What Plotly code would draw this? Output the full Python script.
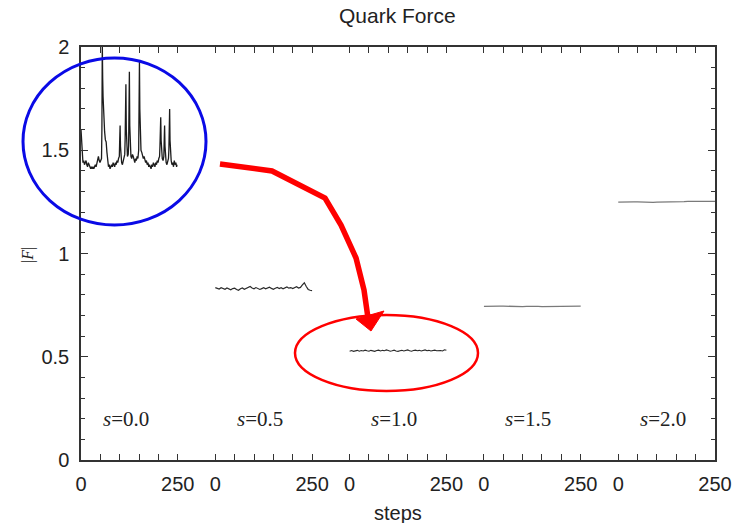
import plotly.graph_objects as go

# ---------------- data ----------------
panel_labels = ["0.0", "0.5", "1.0", "1.5", "2.0"]
panel_offset = 347          # x-offset (in steps) between consecutive panels
tick_steps = [0, 50, 100, 150, 200, 250]

steps_s00 = [0, 1, 2, 3, 5, 7, 9, 11, 13, 15,
             17, 19, 21, 23, 25, 27, 29, 31, 33, 35,
             37, 39, 41, 43, 45, 47, 49, 51, 53, 54,
             55, 56, 57, 58, 59, 61, 63, 65, 67, 69,
             71, 73, 75, 77, 79, 81, 83, 85, 87, 89,
             91, 93, 95, 97, 99, 100, 101, 102, 103, 105,
             107, 109, 111, 113, 114, 115, 116, 117, 118, 120,
             122, 123, 124, 125, 126, 127, 129, 131, 133, 135,
             137, 139, 141, 143, 145, 147, 149, 150, 151, 152,
             153, 155, 157, 159, 161, 163, 165, 167, 169, 171,
             173, 175, 177, 179, 181, 183, 185, 187, 189, 191,
             193, 195, 197, 199, 201, 203, 204, 205, 206, 207,
             208, 210, 212, 214, 215, 216, 217, 218, 220, 222,
             224, 226, 227, 228, 229, 230, 231, 233, 235, 237,
             239, 241, 243, 245, 247, 248]
force_s00 = [1.60, 1.55, 1.50, 1.46, 1.44, 1.45, 1.43, 1.44, 1.45, 1.43,
             1.42, 1.44, 1.43, 1.42, 1.41, 1.42, 1.41, 1.42, 1.41, 1.42,
             1.43, 1.42, 1.44, 1.46, 1.47, 1.45, 1.44, 1.45, 1.46, 1.60,
             2.02, 1.85, 1.76, 1.70, 1.63, 1.59, 1.55, 1.54, 1.49, 1.44,
             1.42, 1.43, 1.41, 1.42, 1.43, 1.42, 1.44, 1.43, 1.42, 1.44,
             1.43, 1.45, 1.44, 1.46, 1.47, 1.55, 1.62, 1.52, 1.46, 1.44,
             1.43, 1.45, 1.46, 1.48, 1.55, 1.70, 1.82, 1.60, 1.49, 1.47,
             1.48, 1.52, 1.70, 1.88, 1.62, 1.50, 1.47, 1.46, 1.48, 1.47,
             1.45, 1.44, 1.46, 1.45, 1.47, 1.46, 1.50, 1.65, 1.93, 1.70,
             1.54, 1.50, 1.49, 1.48, 1.46, 1.47, 1.45, 1.44, 1.45, 1.43,
             1.44, 1.42, 1.43, 1.42, 1.41, 1.43, 1.42, 1.44, 1.43, 1.42,
             1.44, 1.43, 1.45, 1.44, 1.46, 1.47, 1.52, 1.60, 1.66, 1.55,
             1.48, 1.46, 1.45, 1.47, 1.55, 1.62, 1.52, 1.46, 1.44, 1.43,
             1.45, 1.46, 1.50, 1.62, 1.70, 1.55, 1.47, 1.45, 1.43, 1.44,
             1.42, 1.45, 1.43, 1.44, 1.42, 1.43]

steps_fine = list(range(0, 251, 5))
force_s05 = [0.835, 0.832, 0.828, 0.834, 0.830, 0.827, 0.833, 0.829, 0.824, 0.830,
             0.832, 0.826, 0.822, 0.829, 0.833, 0.827, 0.831, 0.836, 0.840, 0.833,
             0.829, 0.835, 0.831, 0.826, 0.830, 0.834, 0.829, 0.833, 0.837, 0.831,
             0.827, 0.832, 0.836, 0.830, 0.834, 0.829, 0.833, 0.838, 0.832, 0.835,
             0.830, 0.834, 0.839, 0.833, 0.836, 0.848, 0.858, 0.840, 0.826, 0.822,
             0.820]
force_s10 = [0.527, 0.530, 0.526, 0.529, 0.531, 0.527, 0.530, 0.528, 0.532, 0.529,
             0.527, 0.531, 0.529, 0.526, 0.530, 0.532, 0.528, 0.531, 0.529, 0.533,
             0.530, 0.527, 0.529, 0.532, 0.528, 0.526, 0.529, 0.531, 0.528, 0.530,
             0.533, 0.529, 0.527, 0.530, 0.532, 0.529, 0.531, 0.528, 0.530, 0.533,
             0.529, 0.531, 0.528, 0.530, 0.532, 0.529, 0.531, 0.530, 0.528, 0.534,
             0.531]

steps_coarse = list(range(0, 251, 10))
force_s15 = [0.744, 0.745, 0.746, 0.746, 0.745, 0.745, 0.744, 0.743, 0.743, 0.742,
             0.743, 0.744, 0.745, 0.745, 0.744, 0.743, 0.743, 0.744, 0.745, 0.746,
             0.745, 0.744, 0.745, 0.746, 0.745, 0.745]
force_s20 = [1.249, 1.250, 1.250, 1.251, 1.250, 1.250, 1.249, 1.249, 1.248, 1.248,
             1.249, 1.249, 1.248, 1.248, 1.249, 1.250, 1.250, 1.251, 1.252, 1.253,
             1.253, 1.252, 1.252, 1.253, 1.252, 1.252]

series = [
    (steps_s00, force_s00, "#1c1c1c", 1.3),
    (steps_fine, force_s05, "#2a2a2a", 1.2),
    (steps_fine, force_s10, "#2a2a2a", 1.1),
    (steps_coarse, force_s15, "#7a7a7a", 1.3),
    (steps_coarse, force_s20, "#7a7a7a", 1.3),
]

# ---------------- figure ----------------
L, R, T, B = 81, 715, 47, 460   # plot-area edges in page pixels
W_FIG, H_FIG = 746, 523
PW, PH = R - L, B - T


def px(x):
    return (x - L) / PW


def py(y):
    return (B - y) / PH


fig = go.Figure()
for k, (st, fv, col, lw) in enumerate(series):
    fig.add_trace(go.Scatter(
        x=[k * panel_offset + s for s in st], y=fv, mode="lines",
        line=dict(color=col, width=lw), showlegend=False, hoverinfo="skip"))

xtickvals, xticktext = [], []
for k in range(len(panel_labels)):
    for s in tick_steps:
        xtickvals.append(k * panel_offset + s)
        xticktext.append(str(s) if s in (0, 250) else "")

x_max = (len(panel_labels) - 1) * panel_offset + 250

axis_col = "#333333"
tick_font = dict(family="Liberation Sans, Arial", size=20, color="#222")
fig.update_xaxes(
    range=[0, x_max], tickmode="array", tickvals=xtickvals, ticktext=xticktext,
    ticks="inside", ticklen=6, tickwidth=1.2, tickcolor=axis_col,
    showline=True, linecolor=axis_col, linewidth=1.5, mirror="ticks",
    showgrid=False, zeroline=False, tickfont=tick_font, ticklabelstandoff=5,
)
fig.update_yaxes(
    range=[0, 2], tickmode="array", tickvals=[0, 0.5, 1, 1.5, 2],
    ticktext=["0", "0.5", "1", "1.5", "2"],
    ticks="inside", ticklen=7, tickwidth=1.2, tickcolor=axis_col,
    minor=dict(dtick=0.1, ticks="inside", ticklen=4, tickcolor=axis_col, showgrid=False),
    showline=True, linecolor=axis_col, linewidth=1.5, mirror="ticks",
    showgrid=False, zeroline=False, tickfont=tick_font, ticklabelstandoff=6,
)

annotations = [
    dict(text="Quark Force", x=px(397), y=py(15),
         font=dict(family="Liberation Sans, Arial", size=21, color="#222")),
    dict(text="steps", x=px(398), y=py(513),
         font=dict(family="Liberation Sans, Arial", size=20, color="#222")),
    dict(text="|<i>F</i>|", x=px(28), y=py(255), textangle=-90,
         font=dict(family="Liberation Serif, Times New Roman", size=16, color="#222")),
]
for a in annotations:
    a.update(xref="paper", yref="paper", showarrow=False, xanchor="center", yanchor="middle")
for k, lab in enumerate(panel_labels):
    annotations.append(dict(
        text=f"<i>s</i>={lab}", x=k * panel_offset + 115, y=py(419) * 2, xref="x", yref="y",
        showarrow=False, xanchor="center", yanchor="middle",
        font=dict(family="Liberation Serif, Times New Roman", size=21, color="#222")))

shapes = [
    # blue ellipse
    dict(type="circle", xref="paper", yref="paper",
         x0=px(23), x1=px(206), y0=py(225), y1=py(58),
         line=dict(color="#0a0ae6", width=3)),
    # red ellipse
    dict(type="circle", xref="paper", yref="paper",
         x0=px(295), x1=px(478), y0=py(391), y1=py(315),
         line=dict(color="#ff0000", width=2.5)),
]
arrow_pts = [(220, 164), (272, 171), (325, 198), (341, 225), (356, 258), (364, 290), (368, 318)]
path = "M " + " L ".join(f"{px(a):.4f},{py(b):.4f}" for a, b in arrow_pts)
shapes.append(dict(type="path", xref="paper", yref="paper", path=path,
                   line=dict(color="#ff0000", width=5.5)))
head = [(356, 319), (384, 311), (371, 331)]
hpath = "M " + " L ".join(f"{px(a):.4f},{py(b):.4f}" for a, b in head) + " Z"
shapes.append(dict(type="path", xref="paper", yref="paper", path=hpath,
                   fillcolor="#ff0000", line=dict(color="#ff0000", width=1)))

fig.update_layout(
    width=W_FIG, height=H_FIG,
    margin=dict(l=L, r=W_FIG - R, t=T, b=H_FIG - B),
    paper_bgcolor="white", plot_bgcolor="white",
    annotations=annotations, shapes=shapes,
)

fig.write_html("out.html", config={"displayModeBar": False},
               post_script="document.body.style.margin='0';document.body.style.padding='0';")
